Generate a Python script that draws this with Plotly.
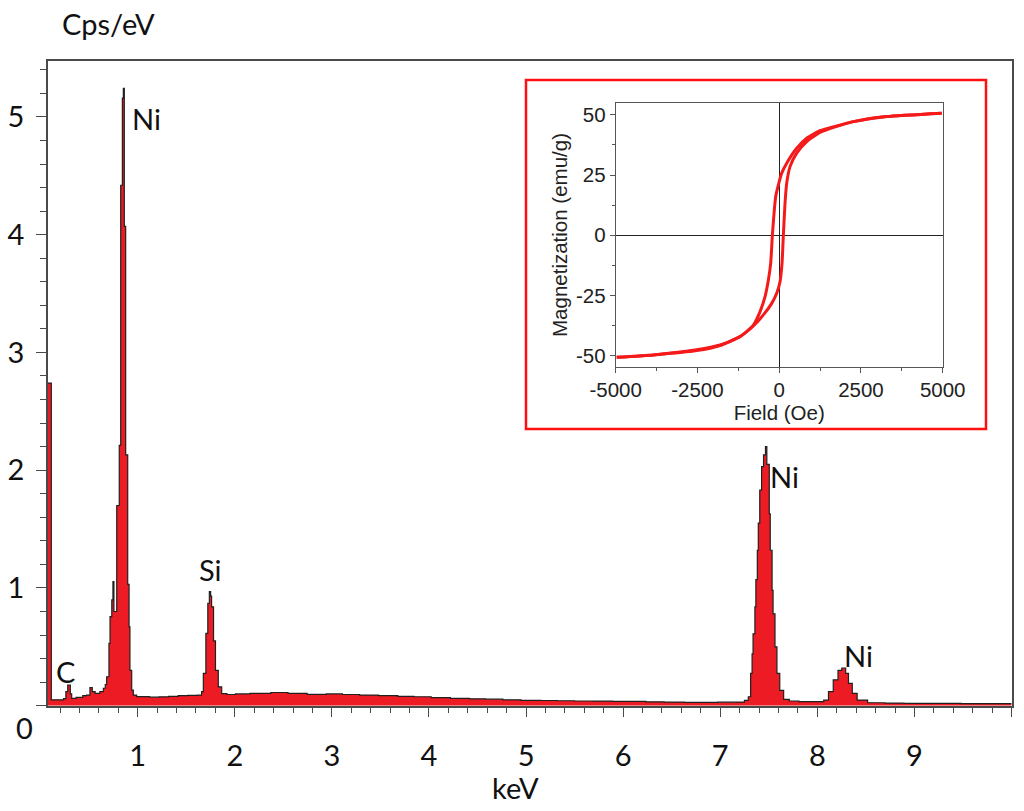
import plotly.graph_objects as go

# ---------------- EDS spectrum (main chart) ----------------
energy_kev = [
    0.076, 0.11, 0.188, 0.237, 0.26, 0.279, 0.306, 0.32, 0.365, 0.434, 0.473, 0.508,
    0.532, 0.561, 0.61, 0.646, 0.666, 0.68, 0.704, 0.715, 0.733, 0.745, 0.755,
    0.784, 0.810, 0.825, 0.842, 0.852, 0.862, 0.876, 0.897, 0.911, 0.920, 0.938,
    0.955, 0.989, 1.122, 1.220, 1.319, 1.417, 1.515, 1.614,
    1.658, 1.676, 1.702, 1.722, 1.738, 1.751, 1.761, 1.781, 1.801, 1.830, 1.865,
    1.919, 2.007, 2.155, 2.371, 2.548, 2.745, 2.942, 3.109, 3.286, 3.482, 3.679,
    3.846, 4.023, 4.220, 4.417, 4.584, 4.761, 4.948, 5.154, 5.322, 5.499, 5.685,
    5.892, 6.059, 6.236, 6.423, 6.630, 6.787, 6.974, 7.161, 7.249,
    7.289, 7.313, 7.328, 7.338, 7.357, 7.367, 7.382, 7.392, 7.407, 7.426, 7.446,
    7.466, 7.480, 7.505, 7.515, 7.534, 7.544, 7.564, 7.584, 7.613, 7.653, 7.711,
    7.810, 7.908, 8.026, 8.066, 8.115, 8.164, 8.213, 8.252, 8.292, 8.321, 8.360,
    8.410, 8.518, 8.695, 8.892, 9.187, 9.482, 9.777, 10.0,
]
cps_per_ev = [
    2.74, 0.05, 0.05, 0.06, 0.12, 0.176, 0.10, 0.063, 0.07, 0.085, 0.09, 0.153,
    0.12, 0.105, 0.12, 0.148, 0.18, 0.246, 0.53, 0.756, 0.898, 1.053, 0.80,
    1.70, 2.21, 4.42, 5.16, 5.243, 4.07, 2.13, 1.03, 0.67, 0.30, 0.133,
    0.09, 0.077, 0.072, 0.075, 0.08, 0.085, 0.088, 0.09,
    0.12, 0.275, 0.615, 0.87, 0.968, 0.93, 0.84, 0.55, 0.30, 0.16, 0.103,
    0.095, 0.10, 0.105, 0.112, 0.105, 0.097, 0.10, 0.095, 0.09, 0.085, 0.08,
    0.076, 0.068, 0.062, 0.058, 0.055, 0.05, 0.046, 0.044, 0.042, 0.04, 0.039,
    0.037, 0.036, 0.033, 0.031, 0.029, 0.028, 0.03, 0.031, 0.045,
    0.076, 0.275, 0.44, 0.61, 0.84, 1.07, 1.32, 1.55, 1.83, 2.03, 2.13,
    2.20, 2.05, 1.63, 1.32, 0.98, 0.78, 0.50, 0.275, 0.13, 0.054, 0.04,
    0.034, 0.035, 0.034, 0.048, 0.12, 0.22, 0.30, 0.32, 0.275, 0.19, 0.105,
    0.048, 0.025, 0.022, 0.02, 0.02, 0.018, 0.018, 0.018,
]
main_tick_vals = [0, 1, 2, 3, 4, 5]
main_tick_text = ["", "1", "2", "3", "4", "5"]
kev_tick_vals = [1, 2, 3, 4, 5, 6, 7, 8, 9, 10]
kev_tick_text = ["1", "2", "3", "4", "5", "6", "7", "8", "9", ""]

peak_labels = ["Ni", "Si", "C", "Ni", "Ni"]
peak_label_x = [0.92, 1.61, 0.14, 7.49, 8.25]
peak_label_y = [4.99, 1.16, 0.29, 1.95, 0.43]

# ---------------- Hysteresis loop (inset) ----------------
field_upper = [4970, 3288, 2268, 1758, 1249, 841, 535, 229, 77, -25, -107, -158,
               -209, -260, -331, -433, -586, -790, -1198, -1809, -2523, -3848, -4970]
mag_upper = [50.7, 49.3, 47.2, 45.4, 43.4, 40.3, 36.1, 29.9, 25.8, 20.9, 16.1, 9.1,
             0.0, -11.6, -18.6, -25.5, -31.7, -37.3, -42.1, -45.6, -47.6, -49.7, -50.7]
field_lower = [-4970, -3848, -2523, -1809, -1198, -790, -484, -229, -76, 25, 87, 127,
               178, 229, 331, 535, 841, 1249, 1758, 2268, 3288, 4970]
mag_lower = [-50.7, -49.7, -47.9, -45.8, -42.1, -37.7, -33.1, -28.3, -24.1, -19.3, -11.6, 0.0,
             13.3, 21.6, 28.5, 34.1, 38.9, 42.7, 45.2, 47.2, 49.3, 50.7]
field_ticks = [-5000, -2500, 0, 2500, 5000]
field_tick_text = ["-5000", "-2500", "0", "2500", "5000"]
mag_ticks = [-50, -25, 0, 25, 50]
mag_tick_text = ["-50", "-25", "0", "25", "50"]

W, H = 1024, 811
MAIN_FONT = "Lato"
INSET_FONT = "Liberation Sans, Arial"
AXIS_GREY = "#4a4a4a"
MAIN_SIZE = 29
INSET_SIZE = 20.5

fig = go.Figure()
fig.add_trace(go.Scatter(
    x=energy_kev, y=cps_per_ev, mode="lines",
    line=dict(color="#202020", width=1.2, shape="hv"),
    fill="tozeroy", fillcolor="#ed1c24",
    xaxis="x", yaxis="y", showlegend=False, hoverinfo="x+y",
))
fig.add_trace(go.Scatter(
    x=field_upper, y=mag_upper, mode="lines",
    line=dict(color="#f51a1a", width=3, shape="spline", smoothing=0.5),
    xaxis="x2", yaxis="y2", showlegend=False,
))
fig.add_trace(go.Scatter(
    x=field_lower, y=mag_lower, mode="lines",
    line=dict(color="#f51a1a", width=3, shape="spline", smoothing=0.5),
    xaxis="x2", yaxis="y2", showlegend=False,
))

for txt, px, py in zip(peak_labels, peak_label_x, peak_label_y):
    fig.add_annotation(x=px, y=py, xref="x", yref="y", text=txt, showarrow=False,
                       xanchor="left", yanchor="middle",
                       font=dict(family=MAIN_FONT, size=MAIN_SIZE, color="#111"))

fig.add_annotation(x=60 / W, y=1 - 24 / H, xref="paper", yref="paper", text="Cps/eV",
                   showarrow=False, xanchor="left", yanchor="middle",
                   font=dict(family=MAIN_FONT, size=MAIN_SIZE, color="#111"))
fig.add_annotation(x=515 / W, y=1 - 787 / H, xref="paper", yref="paper", text="keV",
                   showarrow=False, xanchor="center", yanchor="middle",
                   font=dict(family=MAIN_FONT, size=MAIN_SIZE, color="#111"))
fig.add_annotation(x=24 / W, y=1 - 727 / H, xref="paper", yref="paper", text="0",
                   showarrow=False, xanchor="center", yanchor="middle",
                   font=dict(family=MAIN_FONT, size=MAIN_SIZE, color="#111"))

fig.add_shape(type="rect", xref="paper", yref="paper",
              x0=526 / W, x1=986 / W, y0=1 - 429 / H, y1=1 - 80 / H,
              line=dict(color="#ff1010", width=2.5), fillcolor="rgba(0,0,0,0)")

fig.update_layout(
    width=W, height=H,
    margin=dict(l=0, r=0, t=0, b=0, autoexpand=False),
    paper_bgcolor="white", plot_bgcolor="white",
    xaxis=dict(
        domain=[48 / W, 1011.7 / W], range=[0.076, 10.002], anchor="y",
        automargin=False,
        showline=True, linecolor=AXIS_GREY, linewidth=1.5, mirror=True,
        showgrid=False, zeroline=False,
        tickmode="array", tickvals=kev_tick_vals, ticktext=kev_tick_text,
        ticks="outside", ticklen=10, tickwidth=1.3, tickcolor=AXIS_GREY,
        ticklabelstandoff=14,
        minor=dict(ticks="outside", ticklen=6, tickwidth=1.1, tickcolor=AXIS_GREY,
                   tickmode="linear", tick0=0, dtick=0.2),
        tickfont=dict(family=MAIN_FONT, size=MAIN_SIZE, color="#111"),
    ),
    yaxis=dict(
        domain=[1 - 705.7 / H, 1 - 61 / H], range=[0, 5.475], anchor="x",
        automargin=False,
        showline=True, linecolor=AXIS_GREY, linewidth=1.5, mirror=True,
        showgrid=False, zeroline=False,
        tickmode="array", tickvals=main_tick_vals, ticktext=main_tick_text,
        ticks="outside", ticklen=10, tickwidth=1.3, tickcolor=AXIS_GREY,
        ticklabelstandoff=6,
        minor=dict(ticks="outside", ticklen=6, tickwidth=1.1, tickcolor=AXIS_GREY,
                   tickmode="linear", tick0=0, dtick=0.2),
        tickfont=dict(family=MAIN_FONT, size=MAIN_SIZE, color="#111"),
    ),
    xaxis2=dict(
        domain=[615.7 / W, 942.7 / W], range=[-5000, 5000], anchor="y2",
        automargin=False,
        showline=True, linecolor="#555", linewidth=1, mirror=True,
        showgrid=False, zeroline=True, zerolinecolor="#222", zerolinewidth=1,
        tickmode="array", tickvals=field_ticks, ticktext=field_tick_text,
        ticks="outside", ticklen=5, tickwidth=1, tickcolor="#555",
        ticklabelstandoff=0,
        minor=dict(ticks="outside", ticklen=3, tickcolor="#555",
                   tickmode="linear", tick0=-3750, dtick=2500),
        tickfont=dict(family=INSET_FONT, size=INSET_SIZE, color="#222"),
        title=dict(text="Field (Oe)", standoff=0,
                   font=dict(family=INSET_FONT, size=INSET_SIZE, color="#222")),
    ),
    yaxis2=dict(
        domain=[1 - 366.7 / H, 1 - 103.3 / H], range=[-54.6, 54.8], anchor="x2",
        automargin=False,
        showline=True, linecolor="#555", linewidth=1, mirror=True,
        showgrid=False, zeroline=True, zerolinecolor="#222", zerolinewidth=1,
        tickmode="array", tickvals=mag_ticks, ticktext=mag_tick_text,
        ticks="outside", ticklen=5, tickwidth=1, tickcolor="#555",
        ticklabelstandoff=0,
        minor=dict(ticks="outside", ticklen=3, tickcolor="#555",
                   tickmode="linear", tick0=-37.5, dtick=25),
        tickfont=dict(family=INSET_FONT, size=INSET_SIZE, color="#222"),
        title=dict(text="Magnetization (emu/g)", standoff=2,
                   font=dict(family=INSET_FONT, size=INSET_SIZE, color="#222")),
    ),
)

fig.write_html("out.html",
               config={"displayModeBar": False},
               post_script="document.body.style.margin='0';document.body.style.padding='0';")
